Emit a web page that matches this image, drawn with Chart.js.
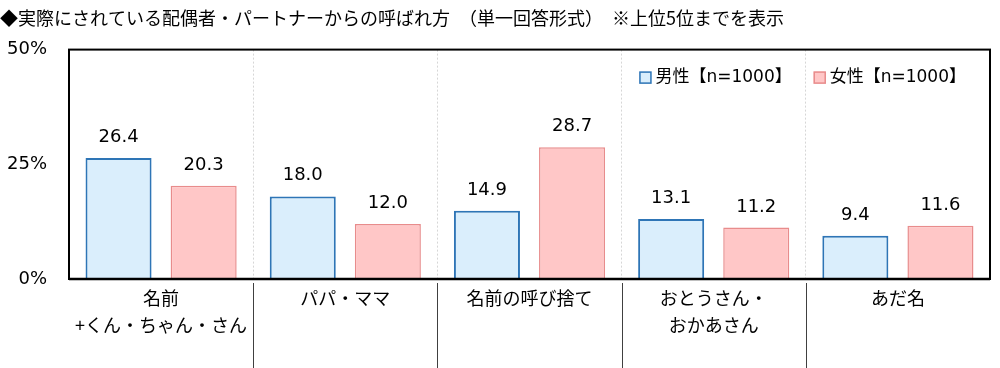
<!DOCTYPE html>
<html>
<head>
<meta charset="utf-8">
<script src="https://cdn.jsdelivr.net/npm/chart.js@4.4.0/dist/chart.umd.min.js"></script>
<style>
  html, body { margin: 0; padding: 0; background: #fff; }
  #wrap { width: 1000px; height: 368px; }
</style>
</head>
<body>
<div id="wrap"><canvas id="chart" width="1000" height="368"></canvas></div>
<script>
// data
const categories = [
  ['名前', '+くん・ちゃん・さん'],
  'パパ・ママ',
  '名前の呼び捨て',
  ['おとうさん・', 'おかあさん'],
  'あだ名'
];
const maleValues = [26.4, 18.0, 14.9, 13.1, 9.4];
const femaleValues = [20.3, 12.0, 28.7, 11.2, 11.6];
const seriesNames = ['男性【n=1000】', '女性【n=1000】'];
const yTicks = [0, 25, 50];

const FONT = "'DejaVu Sans', 'Noto Sans CJK JP', sans-serif";
const CJK = "'Noto Sans CJK JP', 'DejaVu Sans', sans-serif";

// frame around plot area, value labels, legend, separators under the axis
const decorations = {
  id: 'decorations',
  afterDatasetsDraw(chart) {
    const ctx = chart.ctx;
    ctx.save();
    ctx.font = '18px ' + FONT;
    ctx.fillStyle = '#000';
    ctx.textAlign = 'center';
    ctx.textBaseline = 'alphabetic';
    chart.data.datasets.forEach((ds, di) => {
      chart.getDatasetMeta(di).data.forEach((bar, i) => {
        ctx.fillText(ds.data[i].toFixed(1), bar.x, bar.y - 16);
      });
    });
    ctx.restore();
  },
  afterDraw(chart) {
    const { ctx, chartArea: a, scales } = chart;
    ctx.save();
    ctx.strokeStyle = '#000';
    ctx.lineWidth = 2;
    ctx.strokeRect(a.left, a.top, a.right - a.left, a.bottom - a.top);
    ctx.lineWidth = 2.5;
    ctx.beginPath();
    ctx.moveTo(a.left, a.bottom);
    ctx.lineTo(a.right, a.bottom);
    ctx.stroke();

    ctx.strokeStyle = '#404040';
    ctx.lineWidth = 1;
    const x = scales.x;
    for (let i = 1; i < categories.length; i++) {
      const px = Math.round((x.getPixelForTick(i - 1) + x.getPixelForTick(i)) / 2) + 0.5;
      ctx.beginPath();
      ctx.moveTo(px, a.bottom + 4);
      ctx.lineTo(px, chart.height);
      ctx.stroke();
    }

    // legend, top right inside the plot area
    ctx.font = '17px ' + FONT;
    ctx.textBaseline = 'middle';
    ctx.textAlign = 'left';
    const ly = a.top + 28;
    let xr = a.right - 24;
    const items = chart.data.datasets.map(d => d).reverse();
    items.forEach((ds) => {
      const w = ctx.measureText(ds.label).width;
      const tx = xr - w;
      ctx.fillStyle = '#000';
      ctx.fillText(ds.label, tx, ly);
      const bx = tx - 16;
      ctx.fillStyle = ds.backgroundColor;
      ctx.fillRect(bx, ly - 6, 12, 12);
      ctx.strokeStyle = ds.borderColor;
      ctx.lineWidth = 1.5;
      ctx.strokeRect(bx + 0.5, ly - 5.5, 11, 11);
      xr = bx - 22;
    });
    ctx.restore();
  }
};

new Chart(document.getElementById('chart'), {
  type: 'bar',
  data: {
    labels: categories,
    datasets: [{
      label: seriesNames[0],
      data: maleValues,
      backgroundColor: '#daeefc',
      borderColor: '#2e75b6',
      borderWidth: 2,
      borderSkipped: 'bottom'
    }, {
      label: seriesNames[1],
      data: femaleValues,
      backgroundColor: '#ffc7c7',
      borderColor: '#e88c8c',
      borderWidth: 1.5,
      borderSkipped: 'bottom'
    }]
  },
  options: {
    responsive: false,
    animation: false,
    devicePixelRatio: 1,
    categoryPercentage: 0.924,
    barPercentage: 0.776,
    layout: { padding: { left: 0, right: 10, bottom: 0 } },
    plugins: {
      title: {
        display: true,
        text: '◆実際にされている配偶者・パートナーからの呼ばれ方　（単一回答形式）　※上位5位までを表示',
        align: 'start',
        color: '#000',
        font: { family: CJK, size: 18, weight: 'normal' },
        padding: { top: 7, bottom: 21 }
      },
      legend: { display: false },
      tooltip: { enabled: false }
    },
    scales: {
      x: {
        grid: {
          offset: true,
          drawTicks: false,
          color: (c) => (c.index === 0 || c.index === categories.length) ? 'rgba(0,0,0,0)' : '#d6d6d6'
        },
        border: { display: false, dash: [2, 2] },
        ticks: {
          color: '#000',
          font: { family: CJK, size: 18, lineHeight: 1.5 },
          padding: 6,
          maxRotation: 0,
          autoSkip: false
        },
        afterFit(scale) { scale.height = 89; }
      },
      y: {
        min: 0,
        max: 50,
        afterBuildTicks(scale) { scale.ticks = yTicks.map(v => ({ value: v })); },
        grid: { drawOnChartArea: false, drawTicks: false },
        border: { display: false },
        ticks: {
          color: '#000',
          font: { family: FONT, size: 18 },
          padding: 22,
          callback: (v) => v + '%'
        },
        afterFit(scale) { scale.width = 69; }
      }
    }
  },
  plugins: [decorations]
});
</script>
</body>
</html>
